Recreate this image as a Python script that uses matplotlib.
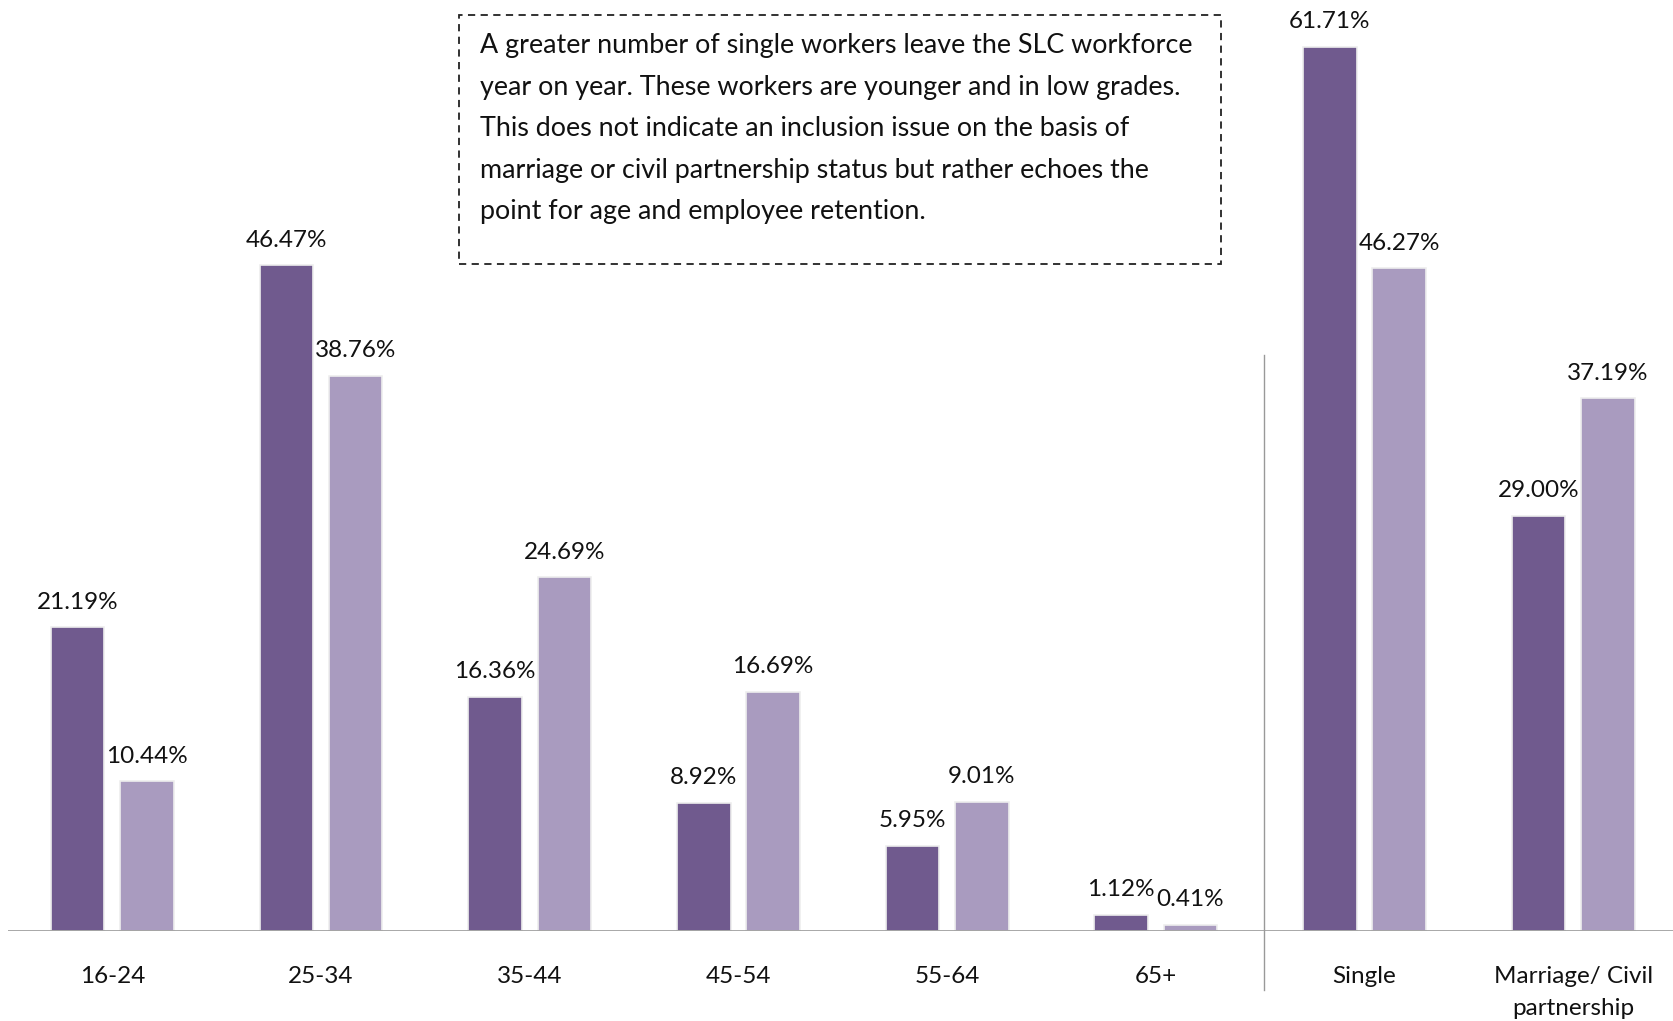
import matplotlib
matplotlib.use("Agg")
import matplotlib.pyplot as plt
from matplotlib.patches import Rectangle

plt.rcParams['font.family'] = ['Lato', 'DejaVu Sans']

categories = ['16-24', '25-34', '35-44', '45-54', '55-64', '65+',
              'Single', 'Marriage/ Civil\npartnership']
leavers = [21.19, 46.47, 16.36, 8.92, 5.95, 1.12, 61.71, 29.00]
workforce = [10.44, 38.76, 24.69, 16.69, 9.01, 0.41, 46.27, 37.19]

note = ("A greater number of single workers leave the SLC workforce\n"
        "year on year. These workers are younger and in low grades.\n"
        "This does not indicate an inclusion issue on the basis of\n"
        "marriage or civil partnership status but rather echoes the\n"
        "point for age and employee retention.")

dark = '#705A8E'
light = '#A99BBF'

W, H = 1673, 1021
fig = plt.figure(figsize=(W / 100, H / 100), dpi=100)
ax = fig.add_axes([8 / W, 90 / H, 1 - 8 / W, 1 - 90 / H])

x = range(len(categories))
bw = 0.256
off = 0.166
for series, col, sh in ((leavers, dark, -off), (workforce, light, off)):
    xs = [i + sh for i in x]
    ax.bar(xs, series, width=bw, color=col, edgecolor='#eeeeee', linewidth=1.2)
    for xi, v in zip(xs, series):
        ax.annotate(f'{v:.2f}%', (xi, v), xytext=(0, 13.5), textcoords='offset points',
                    ha='center', va='baseline', fontsize=17.5, color='#111111')

ax.set_xlim(-0.5, 7.478)
ax.set_ylim(0, 65)
ax.axis('off')
ax.axhline(0, color='#999999', lw=1.2)
# separator between age bands and marital status
ax.plot([5.52, 5.52], [0.619, -0.063], transform=ax.get_xaxis_transform(),
        color='#999999', lw=1, clip_on=False)

for i, lab in enumerate(categories):
    for k, line in enumerate(lab.split('\n')):
        ax.annotate(line, (i, 0), xycoords=('data', 'axes fraction'),
                    xytext=(0, -37.3 - 23.3 * k), textcoords='offset points',
                    ha='center', va='baseline', fontsize=17.5, color='#111111')

# dashed note box
fig.patches.append(Rectangle((459 / W, 1 - 264 / H), (1221 - 459) / W, (264 - 15) / H,
                             transform=fig.transFigure, fill=False, ec='#222222',
                             lw=1.3, ls=(0, (4, 3))))
fig.text(480 / W, 1 - 33 / H, note, ha='left', va='top', fontsize=19.4,
         linespacing=1.83, color='#111111')

fig.savefig('out.png', dpi=100)
